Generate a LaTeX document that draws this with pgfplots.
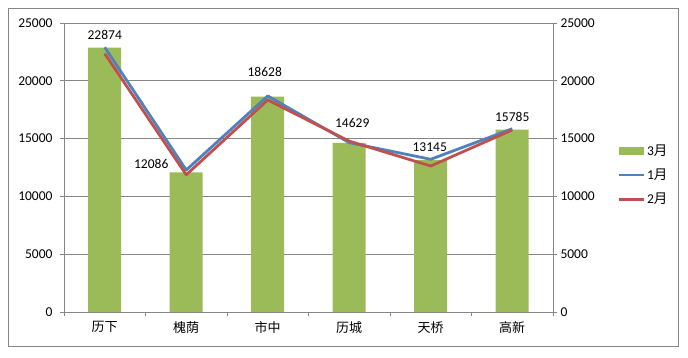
\documentclass[border=0pt]{standalone}
\usepackage{fontspec}
\setmainfont{Carlito}
\newfontfamily\cjk{Noto Sans CJK SC}
\usepackage{pgfplots}
\pgfplotsset{compat=1.18}
\usepackage{pgfplotstable}
\definecolor{cbar}{HTML}{9BBB59}
\definecolor{cblue}{HTML}{4F81BD}
\definecolor{cred}{HTML}{C0504D}
\definecolor{cgrid}{HTML}{868686}

\pgfplotstableread{
x y dx dy
0 22874 0 13
1 12086 -35 8
2 18628 -3 25
3 14629 3 20
4 13145 -1 13
5 15785 0 13
}\bardata
\pgfplotstableread{
x y
0 22900
1 12280
2 18690
3 14650
4 13210
5 15850
}\jandata
\pgfplotstableread{
x y
0 22350
1 11870
2 18340
3 14780
4 12630
5 15750
}\febdata

\begin{document}
\begin{tikzpicture}
\pgfplotsset{
  common/.style={
    scale only axis, width=489pt, height=289pt,
    xmin=-0.5, xmax=5.5, ymin=0, ymax=25000,
    ytick={0,5000,...,25000},
    tick align=outside, major tick length=4pt,
    /pgf/number format/assume math mode=true,
    /pgf/number format/1000 sep={},
    scaled y ticks=false,
    ticklabel style={font=\fontsize{13.5}{15}\selectfont, text=black},
    tick style={cgrid, line width=0.8pt},
    axis line style={cgrid, line width=0.8pt},
  }
}
\begin{axis}[common, name=main,
  axis x line*=bottom, axis y line*=left,
  yticklabel style={xshift=-4pt},
  ymajorgrids, grid style={cgrid, line width=0.8pt},
  xtick={-0.5,0.5,...,5.5}, xticklabel={\mbox{}},
  extra x ticks={0,1,2,3,4,5},
  extra x tick labels={历下,槐荫,市中,历城,天桥,高新},
  extra x tick style={major tick length=0pt, xticklabel style={font=\cjk\fontsize{13}{15}\selectfont, yshift=-6pt}},
  clip=false,
  legend style={draw=none, fill=none, at={(1.131,0.474)}, anchor=west,
    inner sep=0pt, row sep=8pt, font=\fontsize{13.5}{15}\selectfont,
    /tikz/every even column/.append style={column sep=1pt}},
  legend cell align=left,
]
\addplot[ybar, bar width=33pt, fill=cbar, draw=none,
  visualization depends on={\thisrow{dx} \as \dx},
  visualization depends on={\thisrow{dy} \as \dy},
  nodes near coords,
  every node near coord/.append style={anchor=center, xshift=\dx pt, yshift=\dy pt, font=\fontsize{13.5}{15}\selectfont, text=black},
  legend image code/.code={\fill[cbar] (0pt,-4pt) rectangle (25pt,4pt);}
] table[x=x,y=y] {\bardata};
\addlegendentry{3{\cjk 月}}
\addplot[cblue, line width=2.8pt, line join=round, mark=none,
  legend image code/.code={\draw[cblue, line width=2.8pt] (0pt,0pt) -- (25pt,0pt);}
] table[x=x,y=y] {\jandata};
\addlegendentry{1{\cjk 月}}
\addplot[cred, line width=2.8pt, line join=round, mark=none,
  legend image code/.code={\draw[cred, line width=2.8pt] (0pt,0pt) -- (25pt,0pt);}
] table[x=x,y=y] {\febdata};
\addlegendentry{2{\cjk 月}}
\end{axis}
\begin{axis}[common,
  axis x line=none, axis y line*=right,
]
\end{axis}
\draw[cgrid, line width=0.8pt] ([shift={(-56pt,-34pt)}]main.south west) rectangle ++(670pt,338pt);
\path ([shift={(-64pt,-45pt)}]main.south west) rectangle ++(688pt,357pt);
\end{tikzpicture}
\end{document}
